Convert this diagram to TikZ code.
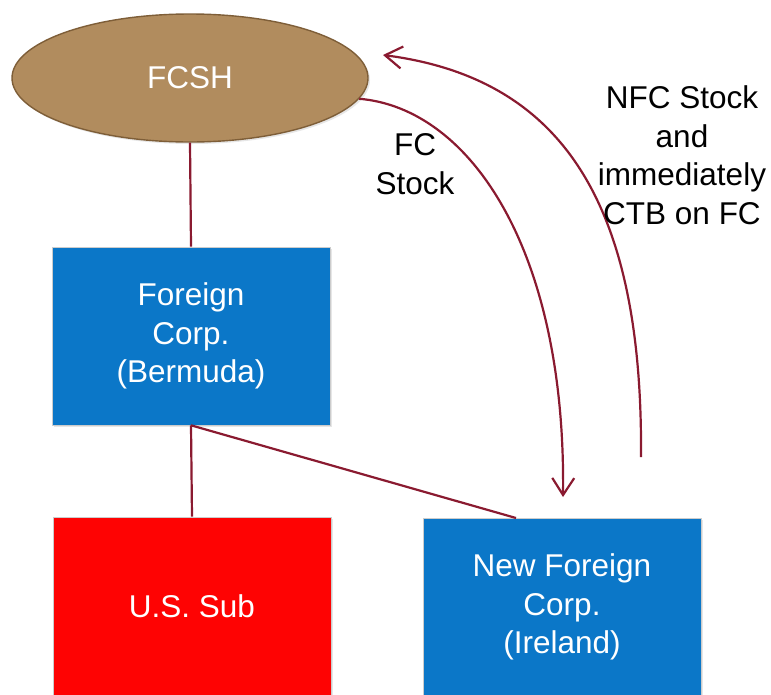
\documentclass[tikz,border=0pt]{standalone}
\usepackage{fontspec}
\setmainfont{Liberation Sans}
\usetikzlibrary{shapes.geometric,arrows.meta,shadows}
\definecolor{wine}{HTML}{8A1A30}
\definecolor{corpblue}{HTML}{0B77C8}
\definecolor{subred}{HTML}{FE0303}
\definecolor{tan}{HTML}{B18C5E}
\definecolor{tandark}{HTML}{7E5E38}
\tikzset{
  lbl/.style={font=\fontsize{31.5}{38.5}\selectfont, align=center, text=white},
  corp/.style={rectangle, draw=black!20, line width=0.6pt, fill=corpblue,
    minimum width=278pt, minimum height=178pt, inner sep=0pt, lbl,
    drop shadow={shadow xshift=2pt, shadow yshift=-2pt, opacity=0.2}},
  owner/.style={ellipse, draw=tandark, line width=1.4pt, fill=tan,
    minimum width=356pt, minimum height=128pt, inner sep=0pt, lbl,
    drop shadow={shadow xshift=2pt, shadow yshift=-2pt, opacity=0.2}},
  link/.style={wine, line width=2.2pt},
  move/.style={wine, line width=2.2pt,
    -{Straight Barb[length=17pt, width=22pt, line width=2.2pt]}},
  note/.style={font=\fontsize{31.5}{38.5}\selectfont, align=center, text=black}
}
\begin{document}
\begin{tikzpicture}[x=1pt, y=-1pt]
  \useasboundingbox (0,0) rectangle (771,694);

  % entities
  \node[owner] (fcsh) at (190,78) {FCSH};
  \node[corp] (fc) at (191,336) {Foreign\\Corp.\\(Bermuda)};
  \node[corp, fill=subred] (us) at (192,606) {U.S. Sub};
  \node[corp] (nfc) at (562,607) {New Foreign\\Corp.\\(Ireland)};

  % ownership lines
  \draw[link] (fcsh.south) -- (fc.north);
  \draw[link] (fc.south) -- (us.north);
  \coordinate (nfctop) at (516,518);
  \draw[link] (fc.south) -- (nfctop);

  % stock exchanges
  \coordinate (fcstart) at (fcsh.-7);
  \coordinate (fcend) at (563,497);
  \draw[move] (fcstart) .. controls (470,108) and (566,250) .. (fcend);

  \coordinate (nfcstart) at (641,457);
  \coordinate (nfcend) at (383,55);
  \draw[move] (nfcstart) .. controls (643,200) and (560,78) .. (nfcend);

  % labels
  \node[note] (fclbl) at (415,164) {FC\\Stock};
  \node[note] (nfclbl) at (682,155) {NFC Stock\\and\\immediately\\CTB on FC};
\end{tikzpicture}
\end{document}
